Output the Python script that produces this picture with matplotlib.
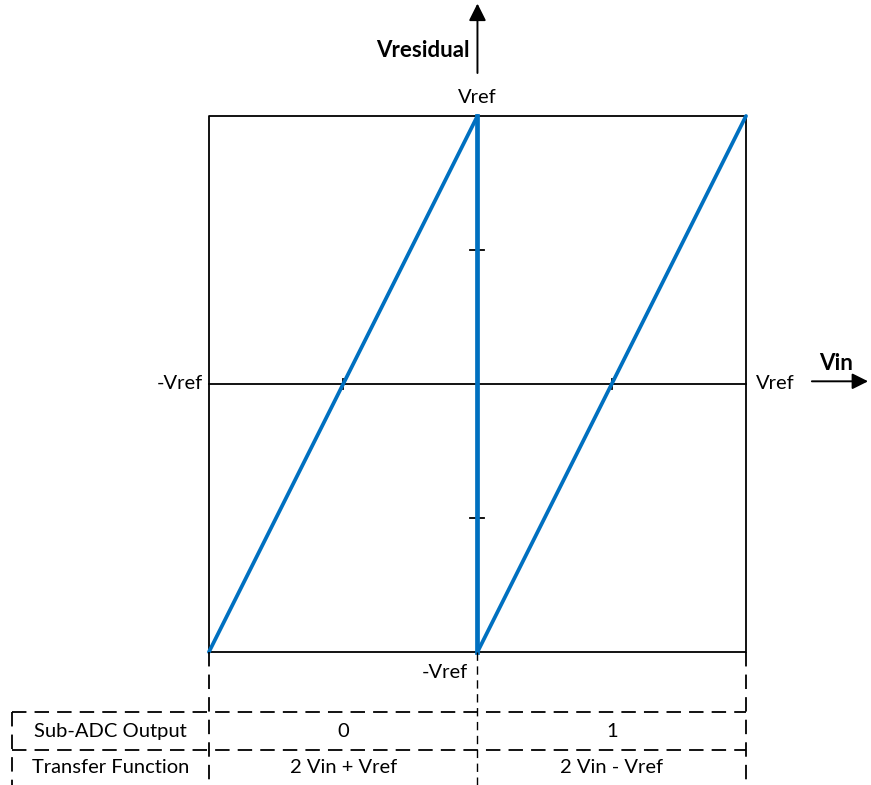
import numpy as np
import matplotlib.pyplot as plt

plt.rcParams['font.family'] = ['Lato', 'DejaVu Sans']

# residue transfer curve of a 1-bit pipeline stage (normalised to Vref)
vin_low = [-1.0, 0.0]
vres_low = [-1.0, 1.0]          # 2 Vin + Vref
vin_high = [0.0, 1.0]
vres_high = [-1.0, 1.0]         # 2 Vin - Vref
step_vin = [0.0, 0.0]
step_vres = [1.0, -1.0]

half_ticks = [-0.5, 0.5]
row_labels = ['Sub-ADC Output', 'Transfer Function']
row_low = ['0', '2 Vin + Vref']
row_high = ['1', '2 Vin - Vref']

blue = '#0070C0'

fig = plt.figure(figsize=(8.71, 7.85), dpi=100)
ax = fig.add_axes([0, 0, 1, 1])
ax.set_xlim(-1.778, 1.4655)
ax.set_ylim(-1.4963, 1.4328)
ax.axis('off')

# frame and axes
ax.plot([-1, 1, 1, -1, -1], [-1, -1, 1, 1, -1], color='black', lw=1.3)
ax.plot([-1, 1], [0, 0], color='black', lw=1.3)
ax.annotate('', xy=(0, 1.43), xytext=(0, 1.15),
            arrowprops=dict(arrowstyle='-|>', color='black', lw=1.4,
                            mutation_scale=26))
ax.annotate('', xy=(1.465, 0.01), xytext=(1.235, 0.01),
            arrowprops=dict(arrowstyle='-|>', color='black', lw=1.4,
                            mutation_scale=24))

# ticks at half scale
for t in half_ticks:
    ax.plot([-0.026, 0.026], [t, t], color='black', lw=1.3)
    ax.plot([t, t], [-0.02, 0.02], color='black', lw=1.3)

# transfer curve
ax.plot(vin_low, vres_low, color=blue, lw=2.7, solid_capstyle='round')
ax.plot(vin_high, vres_high, color=blue, lw=2.7, solid_capstyle='round')
ax.plot(step_vin, step_vres, color=blue, lw=3.4)

# labels
fs = 14.5
ax.text(-0.03, 1.245, 'Vresidual', ha='right', va='center', fontsize=16,
        fontweight='bold')
ax.text(0, 1.068, 'Vref', ha='center', va='center', fontsize=fs)
ax.text(-1.11, 0, '-Vref', ha='center', va='center', fontsize=fs)
ax.text(1.11, 0, 'Vref', ha='center', va='center', fontsize=fs)
ax.text(1.335, 0.075, 'Vin', ha='center', va='center', fontsize=16,
        fontweight='bold')
ax.text(-0.035, -1.075, '-Vref', ha='right', va='center', fontsize=fs)

# dashed table below the plot
y_top, y_mid, y_bot = -1.224, -1.366, -1.50
x_left = -1.734
dash = dict(color='black', lw=1.3, linestyle=(0, (8, 4.5)))
for x in [-1, 1]:
    ax.plot([x, x], [-1, y_bot], **dash)
ax.plot([0, 0], [-1, y_bot], color='black', lw=1.0, linestyle=(0, (6, 4)))
ax.plot([x_left, x_left], [y_top, y_bot], **dash)
ax.plot([x_left, 1], [y_top, y_top], **dash)
ax.plot([x_left, 1], [y_mid, y_mid], **dash)

row_y = [(y_top + y_mid) / 2, (y_mid - 1.496) / 2]
for y, lab, lo, hi in zip(row_y, row_labels, row_low, row_high):
    ax.text((x_left - 1) / 2, y, lab, ha='center', va='center', fontsize=fs)
    ax.text(-0.5, y, lo, ha='center', va='center', fontsize=fs)
    ax.text(0.5, y, hi, ha='center', va='center', fontsize=fs)

fig.savefig('out.png', dpi=100)
